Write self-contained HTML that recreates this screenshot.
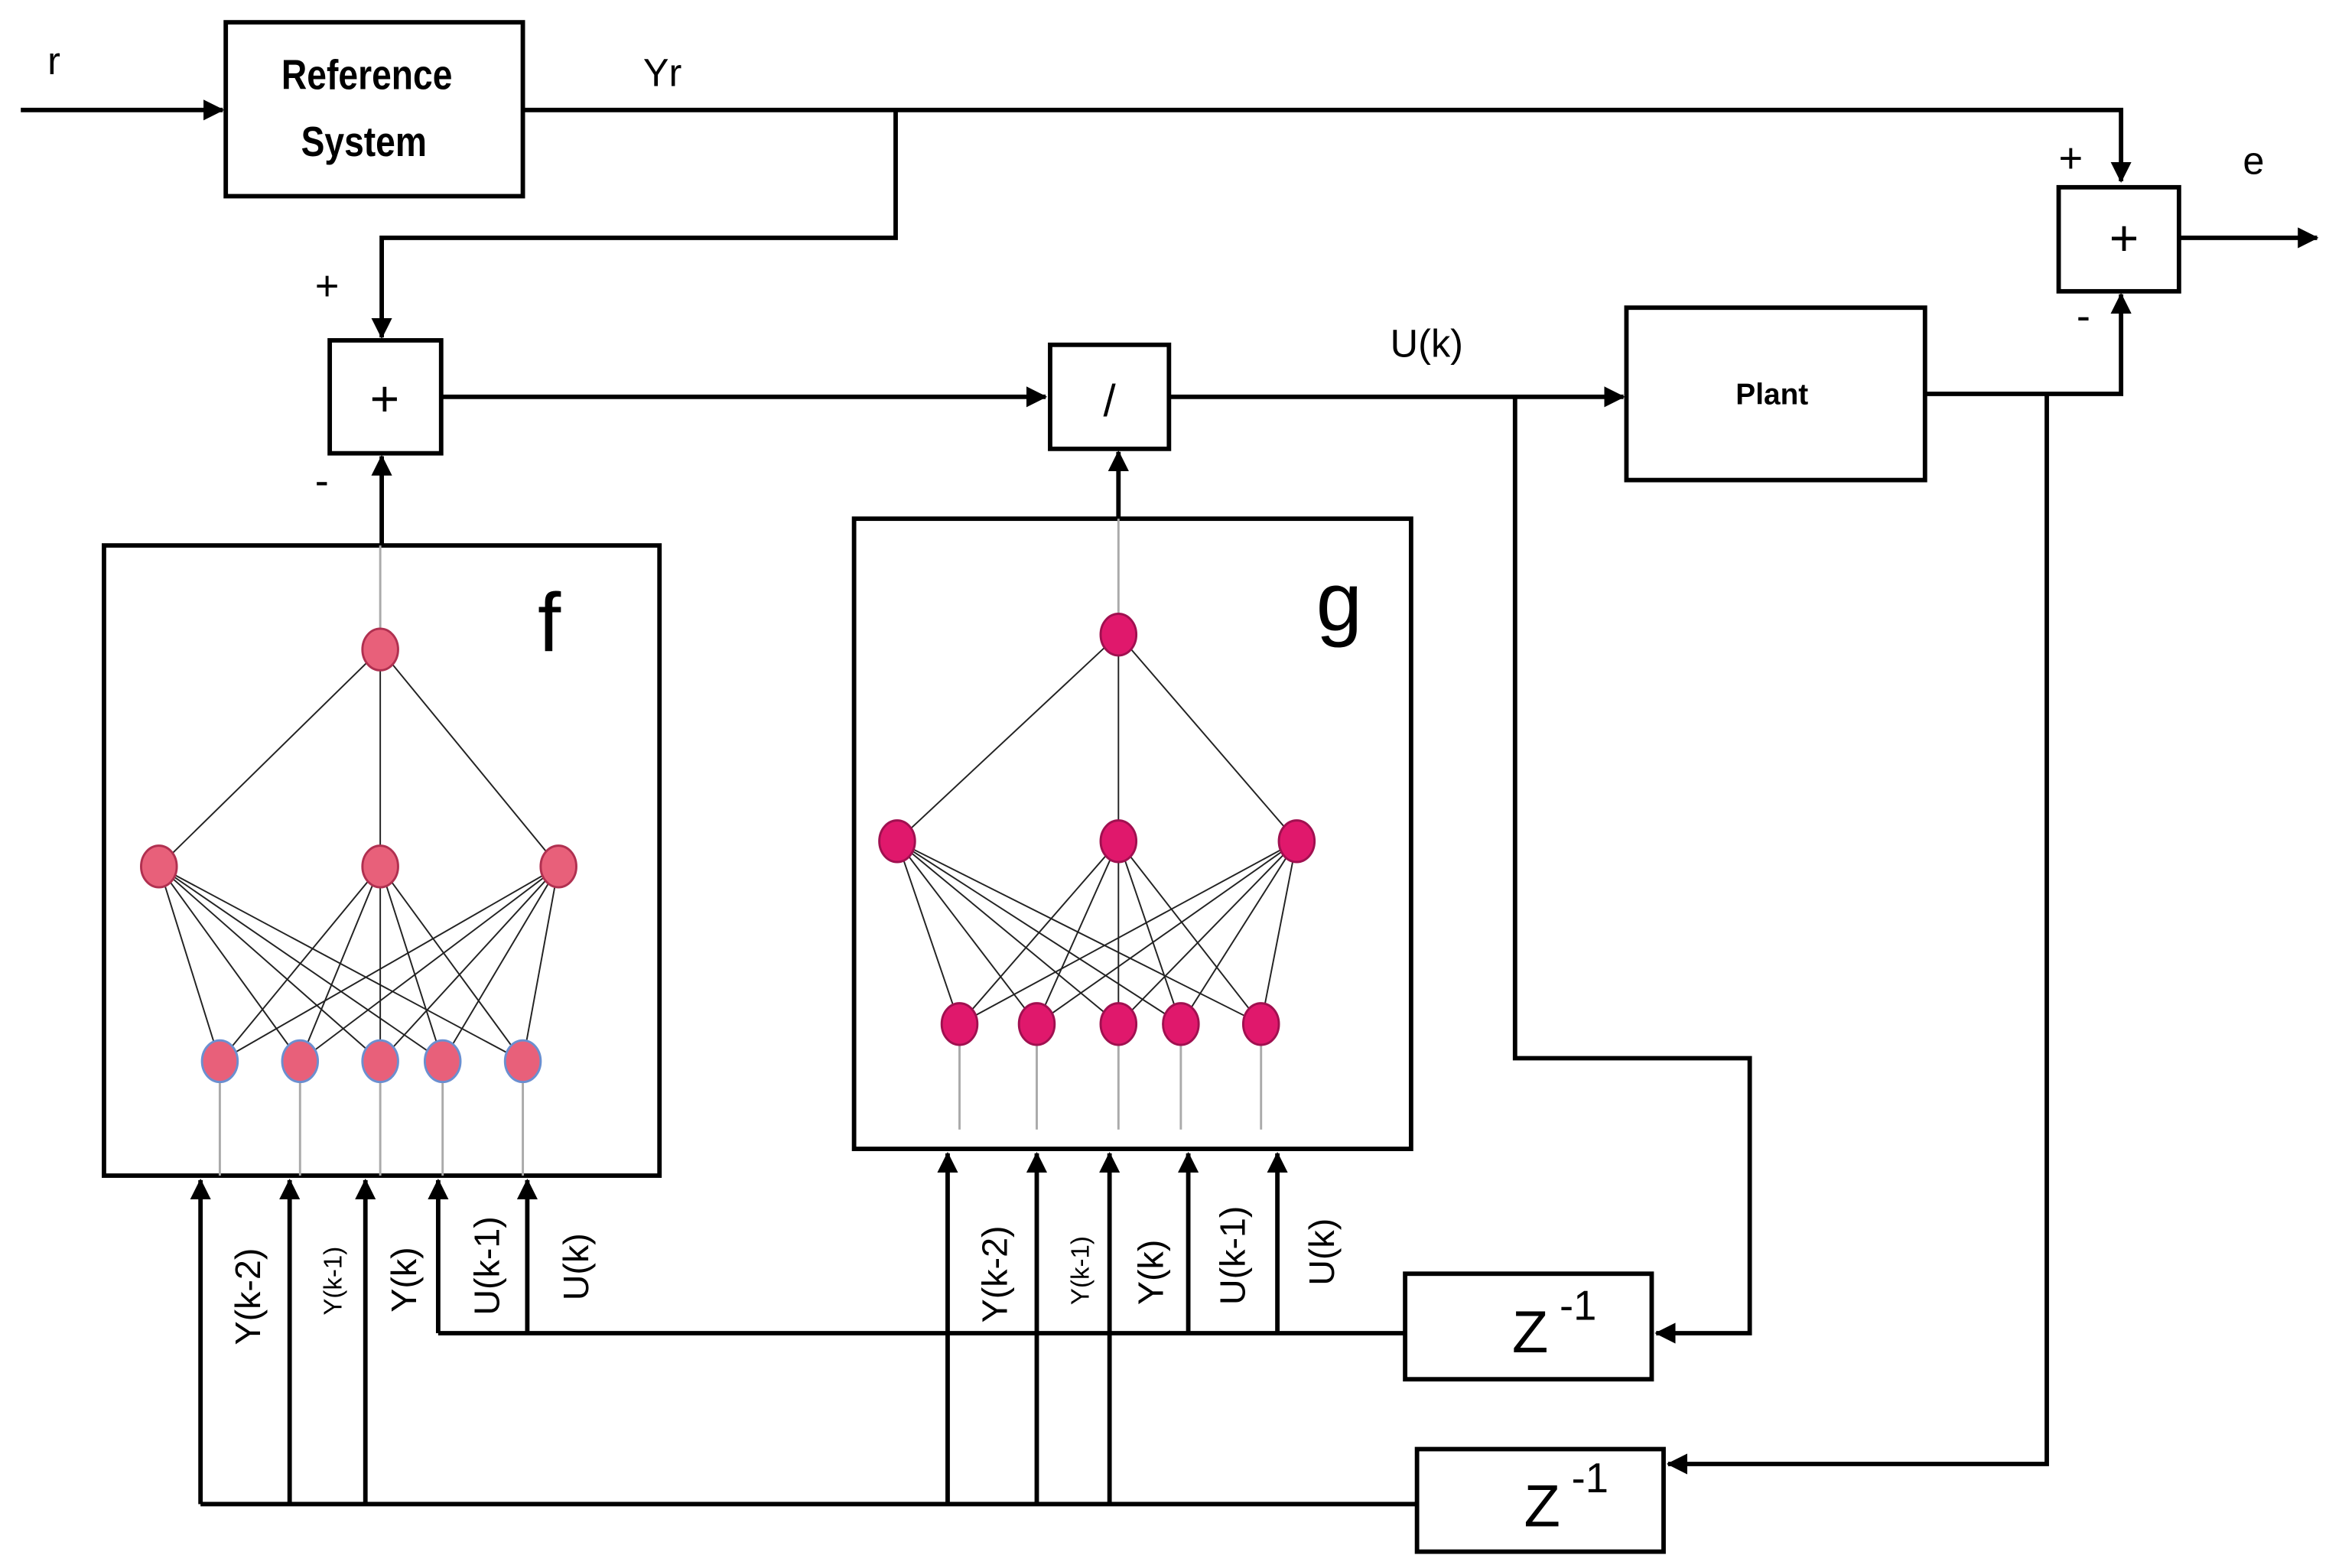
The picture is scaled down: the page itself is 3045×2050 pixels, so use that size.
<!DOCTYPE html>
<html><head><style>html,body{margin:0;padding:0;background:#fff}svg{display:block}</style></head><body>
<svg width="3045" height="2050" viewBox="0 0 1568 1055" preserveAspectRatio="none" xmlns="http://www.w3.org/2000/svg" font-family="'Liberation Sans',sans-serif">
<defs><marker id="a" markerWidth="14" markerHeight="14" refX="13" refY="7" orient="auto" markerUnits="userSpaceOnUse"><path d="M0,0 L14,7 L0,14 z" fill="#000"/></marker></defs>
<g stroke="#000" stroke-width="3" fill="none">
<rect x="152" y="15" width="200" height="117"/>
<rect x="222" y="229" width="75" height="76"/>
<rect x="707" y="232" width="80" height="70"/>
<rect x="1095" y="207" width="201" height="116"/>
<rect x="1386" y="126" width="81" height="70"/>
<rect x="946" y="857" width="166" height="71"/>
<rect x="954" y="975" width="166" height="69"/>
<rect x="70" y="367" width="374" height="424"/>
<rect x="575" y="349" width="375" height="424"/>
<line x1="14" y1="74" x2="150" y2="74" marker-end="url(#a)"/>
<polyline points="352,74 1428,74 1428,122" marker-end="url(#a)"/>
<polyline points="603,74 603,160 257,160 257,227" marker-end="url(#a)"/>
<line x1="297" y1="267" x2="704" y2="267" marker-end="url(#a)"/>
<line x1="787" y1="267" x2="1093" y2="267" marker-end="url(#a)"/>
<polyline points="1296,265 1428,265 1428,198" marker-end="url(#a)"/>
<line x1="1467" y1="160" x2="1560" y2="160" marker-end="url(#a)"/>
<polyline points="1020,267 1020,712 1178,712 1178,897 1115,897" marker-end="url(#a)"/>
<polyline points="1378,265 1378,985 1123,985" marker-end="url(#a)"/>
<line x1="946" y1="897" x2="295" y2="897"/>
<line x1="954" y1="1012" x2="135" y2="1012"/>
<line x1="257" y1="367" x2="257" y2="307" marker-end="url(#a)"/>
<line x1="753" y1="349" x2="753" y2="304" marker-end="url(#a)"/>
<line x1="295" y1="897" x2="295" y2="794" marker-end="url(#a)"/>
<line x1="355" y1="897" x2="355" y2="794" marker-end="url(#a)"/>
<line x1="800" y1="897" x2="800" y2="776" marker-end="url(#a)"/>
<line x1="860" y1="897" x2="860" y2="776" marker-end="url(#a)"/>
<line x1="135" y1="1012" x2="135" y2="794" marker-end="url(#a)"/>
<line x1="195" y1="1012" x2="195" y2="794" marker-end="url(#a)"/>
<line x1="246" y1="1012" x2="246" y2="794" marker-end="url(#a)"/>
<line x1="638" y1="1012" x2="638" y2="776" marker-end="url(#a)"/>
<line x1="698" y1="1012" x2="698" y2="776" marker-end="url(#a)"/>
<line x1="747" y1="1012" x2="747" y2="776" marker-end="url(#a)"/>
</g>
<g stroke="#222" stroke-width="1">
<line x1="256" y1="437" x2="107" y2="583"/><line x1="256" y1="437" x2="256" y2="583"/><line x1="256" y1="437" x2="376" y2="583"/>
<line x1="107" y1="583" x2="148" y2="714"/><line x1="107" y1="583" x2="202" y2="714"/><line x1="107" y1="583" x2="256" y2="714"/><line x1="107" y1="583" x2="298" y2="714"/><line x1="107" y1="583" x2="352" y2="714"/>
<line x1="256" y1="583" x2="148" y2="714"/><line x1="256" y1="583" x2="202" y2="714"/><line x1="256" y1="583" x2="256" y2="714"/><line x1="256" y1="583" x2="298" y2="714"/><line x1="256" y1="583" x2="352" y2="714"/>
<line x1="376" y1="583" x2="148" y2="714"/><line x1="376" y1="583" x2="202" y2="714"/><line x1="376" y1="583" x2="256" y2="714"/><line x1="376" y1="583" x2="298" y2="714"/><line x1="376" y1="583" x2="352" y2="714"/>
<line x1="753" y1="427" x2="604" y2="566"/><line x1="753" y1="427" x2="753" y2="566"/><line x1="753" y1="427" x2="873" y2="566"/>
<line x1="604" y1="566" x2="646" y2="689"/><line x1="604" y1="566" x2="698" y2="689"/><line x1="604" y1="566" x2="753" y2="689"/><line x1="604" y1="566" x2="795" y2="689"/><line x1="604" y1="566" x2="849" y2="689"/>
<line x1="753" y1="566" x2="646" y2="689"/><line x1="753" y1="566" x2="698" y2="689"/><line x1="753" y1="566" x2="753" y2="689"/><line x1="753" y1="566" x2="795" y2="689"/><line x1="753" y1="566" x2="849" y2="689"/>
<line x1="873" y1="566" x2="646" y2="689"/><line x1="873" y1="566" x2="698" y2="689"/><line x1="873" y1="566" x2="753" y2="689"/><line x1="873" y1="566" x2="795" y2="689"/><line x1="873" y1="566" x2="849" y2="689"/>
</g>
<g stroke="#aaa" stroke-width="1.5">
<line x1="256" y1="367" x2="256" y2="437"/><line x1="753" y1="349" x2="753" y2="427"/>
<line x1="148" y1="714" x2="148" y2="791"/><line x1="202" y1="714" x2="202" y2="791"/><line x1="256" y1="714" x2="256" y2="791"/><line x1="298" y1="714" x2="298" y2="791"/><line x1="352" y1="714" x2="352" y2="791"/>
<line x1="646" y1="689" x2="646" y2="760"/><line x1="698" y1="689" x2="698" y2="760"/><line x1="753" y1="689" x2="753" y2="760"/><line x1="795" y1="689" x2="795" y2="760"/><line x1="849" y1="689" x2="849" y2="760"/>
</g>
<g fill="#e8607a" stroke="#b03050" stroke-width="1.5">
<ellipse cx="256" cy="437" rx="12" ry="14"/><ellipse cx="107" cy="583" rx="12" ry="14"/><ellipse cx="256" cy="583" rx="12" ry="14"/><ellipse cx="376" cy="583" rx="12" ry="14"/>
</g>
<g fill="#e8607a" stroke="#6a8fd0" stroke-width="1.5">
<ellipse cx="148" cy="714" rx="12" ry="14"/><ellipse cx="202" cy="714" rx="12" ry="14"/><ellipse cx="256" cy="714" rx="12" ry="14"/><ellipse cx="298" cy="714" rx="12" ry="14"/><ellipse cx="352" cy="714" rx="12" ry="14"/>
</g>
<g fill="#e0186c" stroke="#a01050" stroke-width="1.5">
<ellipse cx="753" cy="427" rx="12" ry="14"/><ellipse cx="604" cy="566" rx="12" ry="14"/><ellipse cx="753" cy="566" rx="12" ry="14"/><ellipse cx="873" cy="566" rx="12" ry="14"/>
<ellipse cx="646" cy="689" rx="12" ry="14"/><ellipse cx="698" cy="689" rx="12" ry="14"/><ellipse cx="753" cy="689" rx="12" ry="14"/><ellipse cx="795" cy="689" rx="12" ry="14"/><ellipse cx="849" cy="689" rx="12" ry="14"/>
</g>
<g fill="#000">
<text x="32" y="50" font-size="26">r</text>
<text transform="translate(247,60) scale(0.85,1)" font-size="28" font-weight="bold" text-anchor="middle">Reference</text>
<text transform="translate(245,105) scale(0.85,1)" font-size="28" font-weight="bold" text-anchor="middle">System</text>
<text x="433" y="58" font-size="26">Yr</text>
<text x="212" y="202" font-size="28">+</text>
<text x="259" y="280" font-size="34" text-anchor="middle">+</text>
<text x="212" y="333" font-size="28">-</text>
<text x="747" y="280" font-size="30" text-anchor="middle">/</text>
<text x="936" y="240" font-size="26">U(k)</text>
<text x="1193" y="272" font-size="20" font-weight="bold" text-anchor="middle">Plant</text>
<text x="1386" y="116" font-size="28">+</text>
<text x="1430" y="172" font-size="34" text-anchor="middle">+</text>
<text x="1398" y="222" font-size="28">-</text>
<text x="1510" y="117" font-size="26">e</text>
<text x="362" y="438" font-size="56">f</text>
<text x="886" y="424" font-size="56">g</text>
<text x="1018" y="910" font-size="40">Z</text><text x="1050" y="888" font-size="28">-1</text>
<text x="1026" y="1027" font-size="40">Z</text><text x="1058" y="1004" font-size="28">-1</text>
<g font-size="24">
<text transform="translate(175,905) rotate(-90)">Y(k-2)</text>
<text transform="translate(230,885) rotate(-90)" font-size="17">Y(k-1)</text>
<text transform="translate(280,883) rotate(-90)">Y(k)</text>
<text transform="translate(336,885) rotate(-90)">U(k-1)</text>
<text transform="translate(396,875) rotate(-90)">U(k)</text>
<text transform="translate(678,890) rotate(-90)">Y(k-2)</text>
<text transform="translate(733,878) rotate(-90)" font-size="17">Y(k-1)</text>
<text transform="translate(783,878) rotate(-90)">Y(k)</text>
<text transform="translate(838,878) rotate(-90)">U(k-1)</text>
<text transform="translate(898,865) rotate(-90)">U(k)</text>
</g>
</g>
</svg>
</body></html>
